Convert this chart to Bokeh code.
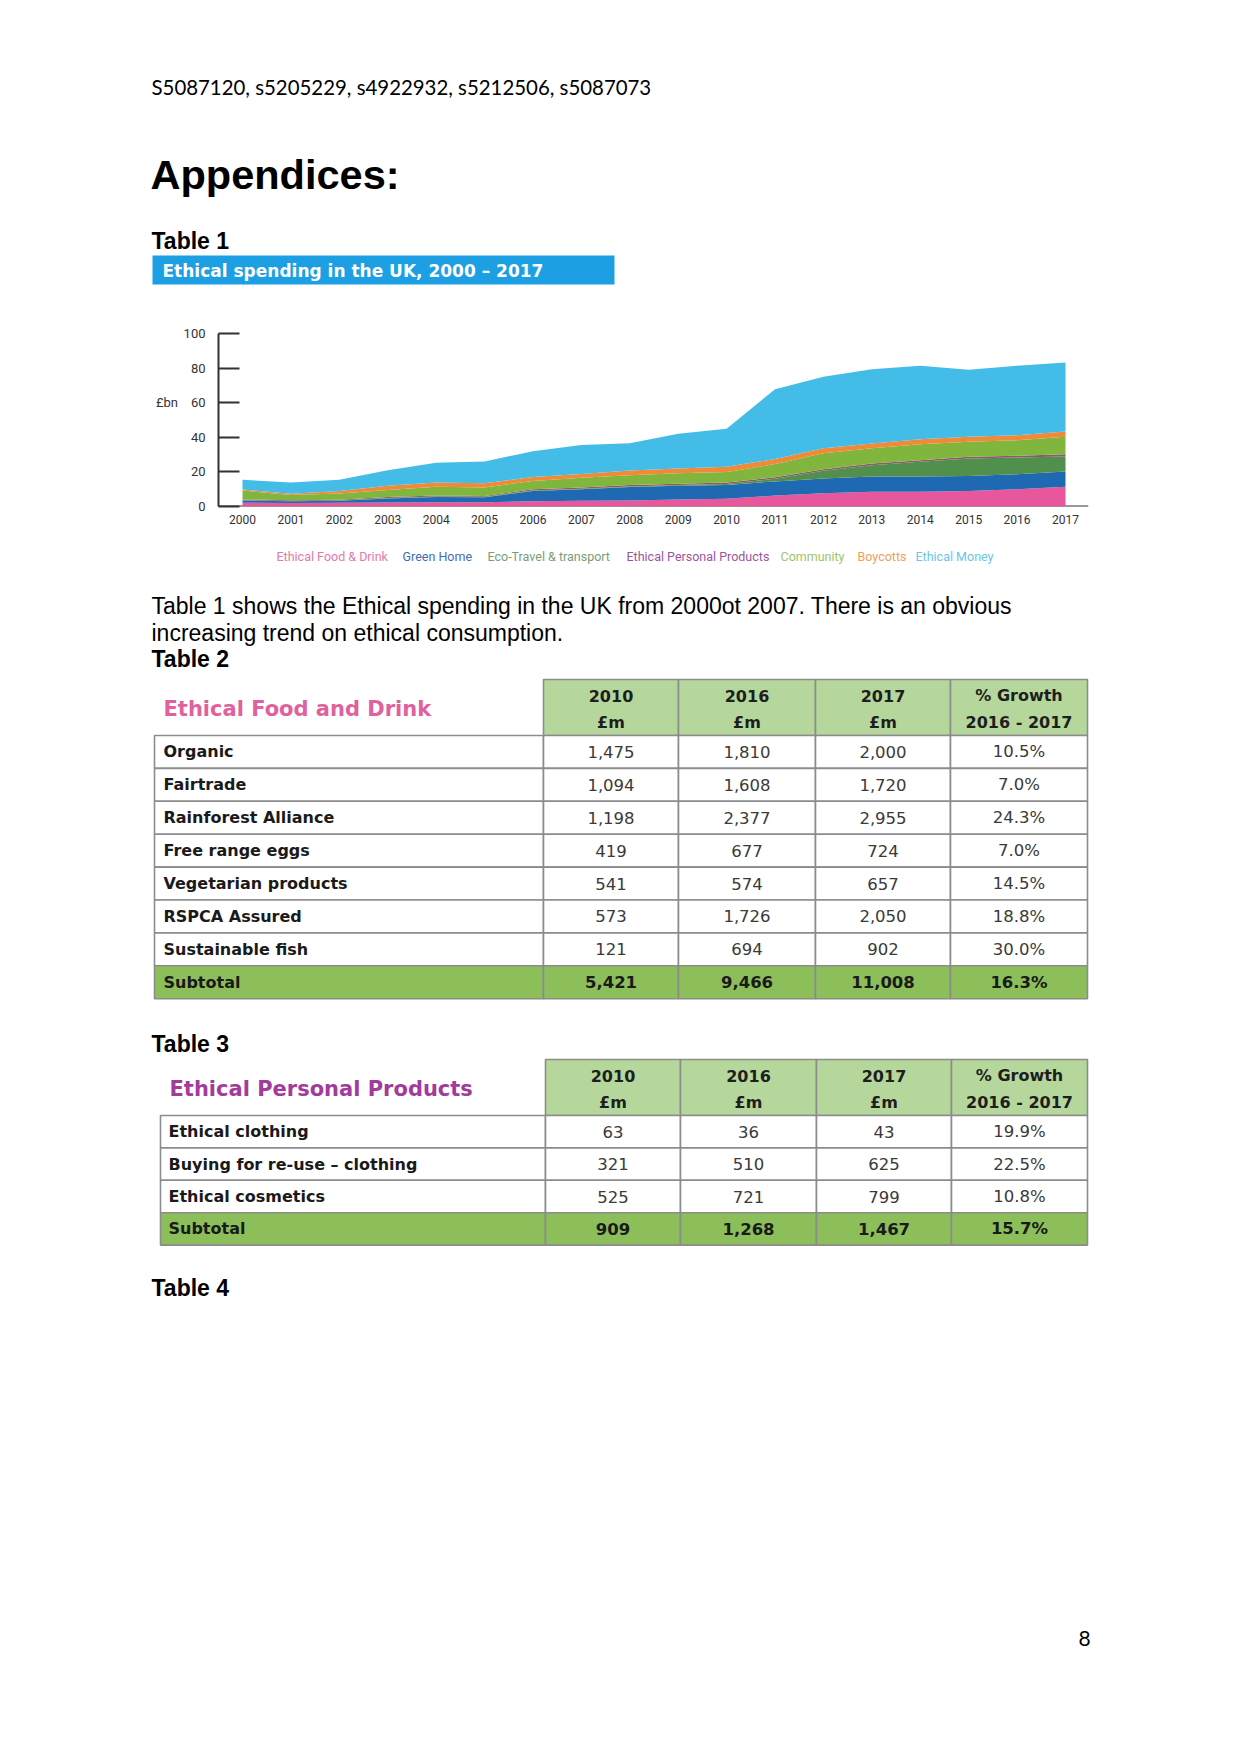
from bokeh.plotting import figure
from bokeh.layouts import column
from bokeh.models import Range1d, ColumnDataSource, FixedTicker, Span
from bokeh.core.properties import value
from bokeh.embed import file_html
from bokeh.resources import INLINE

# ---------------- data ----------------
years = [2000, 2001, 2002, 2003, 2004, 2005, 2006, 2007, 2008,
         2009, 2010, 2011, 2012, 2013, 2014, 2015, 2016, 2017]
series_names = ["Ethical Food & Drink", "Green Home", "Eco-Travel & transport",
                "Ethical Personal Products", "Community", "Boycotts", "Ethical Money"]
food = [2.2, 2.0, 2.1, 2.3, 2.4, 2.5, 3.0, 3.3, 3.5, 4.0, 4.5, 6.3, 7.7, 8.5, 8.5, 9.0, 10.0, 11.4]
home = [1.2, 1.0, 1.2, 2.3, 3.1, 2.8, 6.0, 6.7, 7.8, 8.0, 8.0, 8.2, 8.5, 8.8, 8.8, 8.7, 8.7, 8.8]
travel = [0.2, 0.2, 0.2, 0.3, 0.3, 0.3, 0.3, 0.3, 0.3, 0.4, 0.5, 1.5, 4.4, 6.6, 8.5, 10.0, 9.6, 8.7]
personal = [0.5, 0.4, 0.4, 0.6, 0.6, 0.5, 0.7, 0.7, 0.8, 0.8, 0.9, 0.9, 1.0, 1.0, 1.0, 1.0, 1.0, 1.3]
community = [5.1, 3.0, 3.6, 4.1, 5.0, 4.9, 4.8, 5.6, 5.6, 6.0, 6.1, 7.6, 9.2, 8.8, 9.2, 8.7, 9.0, 10.1]
boycotts = [0.6, 0.7, 1.5, 2.4, 2.5, 2.5, 2.2, 2.2, 2.8, 2.8, 3.0, 2.9, 2.9, 2.7, 2.9, 2.9, 2.9, 3.1]
money = [5.6, 6.6, 6.5, 9.0, 11.4, 12.5, 15.0, 16.7, 15.7, 20.0, 22.0, 40.4, 41.3, 43.0, 42.4, 38.7, 40.1, 39.8]
y_ticks = [0, 20, 40, 60, 80, 100]

food_items = ["Organic", "Fairtrade", "Rainforest Alliance", "Free range eggs",
              "Vegetarian products", "RSPCA Assured", "Sustainable fish"]
food_2010 = [1475, 1094, 1198, 419, 541, 573, 121]
food_2016 = [1810, 1608, 2377, 677, 574, 1726, 694]
food_2017 = [2000, 1720, 2955, 724, 657, 2050, 902]
food_growth = [10.5, 7.0, 24.3, 7.0, 14.5, 18.8, 30.0]
food_subtotal = [5421, 9466, 11008, 16.3]

personal_items = ["Ethical clothing", "Buying for re-use \u2013 clothing", "Ethical cosmetics"]
personal_2010 = [63, 321, 525]
personal_2016 = [36, 510, 721]
personal_2017 = [43, 625, 799]
personal_growth = [19.9, 22.5, 10.8]
personal_subtotal = [909, 1268, 1467, 15.7]

header_line1 = ["2010", "2016", "2017", "% Growth"]
header_line2 = ["\u00a3m", "\u00a3m", "\u00a3m", "2016 - 2017"]

# ---------------- styles ----------------
W = 1241
area_colors = ["#e8579c", "#1f68b2", "#51904c", "#8a5c6a", "#80b63e", "#f08a36", "#43bde8"]
legend_colors = ["#e27aac", "#3f6db5", "#789e76", "#9a55a0", "#9cc46a", "#f0a058", "#6cc5ea"]
legend_x = [276, 402, 487, 626, 780, 857, 915]


def page_fig(top, bottom):
    p = figure(width=W, height=bottom - top, x_range=Range1d(0, W),
               y_range=Range1d(bottom, top), output_backend="svg",
               toolbar_location=None, min_border=0,
               x_axis_location=None, y_axis_location=None)
    p.grid.visible = False
    p.outline_line_color = None
    p.frame_align = False
    return p


def txt(p, x, y, s, font, size, color="#000000", style="normal", align="left"):
    p.text(x=[x], y=[y], text=[s], text_font=value(font), text_font_size=f"{size}px",
           text_font_style=style, text_color=color, text_align=align,
           text_baseline="middle")


def draw_table(p, title, title_color, title_x, title_y, left, edges, head_top, head_bot,
               row_h, items, cols, growth, subtotal, label_x):
    grid = "#8c8c8c"
    p.quad(left=edges[:-1], right=edges[1:], top=[head_top] * 4, bottom=[head_bot] * 4,
           fill_color="#b5d79b", line_color=grid, line_width=1.6)
    hh = head_bot - head_top
    centers = [(edges[i] + edges[i + 1]) / 2 for i in range(4)]
    p.text(x=centers, y=[head_top + 0.29 * hh] * 4,
           text=header_line1, text_font=value("DejaVu Sans"), text_font_size="16px",
           text_font_style="bold", text_color="#1e1e1e", text_align="center", text_baseline="middle")
    p.text(x=centers, y=[head_top + 0.77 * hh] * 4,
           text=header_line2, text_font=value("DejaVu Sans"), text_font_size="16px",
           text_font_style="bold", text_color="#1e1e1e", text_align="center", text_baseline="middle")
    txt(p, title_x, title_y, title, "DejaVu Sans", 21, title_color, "bold")
    n = len(items)
    all_edges = [left] + list(edges)
    for r in range(n + 1):
        top = head_bot + r * row_h
        bot = top + row_h
        fill = "#ffffff" if r < n else "#8cbe5a"
        p.quad(left=all_edges[:-1], right=all_edges[1:], top=[top] * 5, bottom=[bot] * 5,
               fill_color=fill, line_color=grid, line_width=1.6)
        yc = top + row_h / 2
        if r < n:
            label = items[r]
            vals = [f"{cols[0][r]:,}", f"{cols[1][r]:,}", f"{cols[2][r]:,}", f"{growth[r]:.1f}%"]
            style, vcol = "normal", "#3a3a3a"
        else:
            label = "Subtotal"
            vals = [f"{subtotal[0]:,}", f"{subtotal[1]:,}", f"{subtotal[2]:,}", f"{subtotal[3]:.1f}%"]
            style, vcol = "bold", "#1a1a1a"
        txt(p, label_x, yc, label, "DejaVu Sans", 16, "#1a1a1a", "bold")
        p.text(x=centers, y=[yc] * 4, text=vals,
               text_font=value("DejaVu Sans"), text_font_size="16.5px", text_font_style=style,
               text_color=vcol, text_align="center", text_baseline="middle")


# ---------------- top section (page y 0..290) ----------------
top = page_fig(0, 290)
txt(top, 151, 86, "S5087120, s5205229, s4922932, s5212506, s5087073", "Lato", 20.4)
txt(top, 150, 174, "Appendices:", "Liberation Sans", 41.5, style="bold")
txt(top, 151, 240, "Table 1", "Liberation Sans", 23, style="bold")
top.quad(left=[152], right=[614], top=[255], bottom=[284], fill_color="#1c9fe3", line_color=None)
txt(top, 162, 270, "Ethical spending in the UK, 2000 \u2013 2017", "DejaVu Sans", 17, "#ffffff", "bold")

# ---------------- chart (page y 290..540) ----------------
src = ColumnDataSource(dict(year=years, s0=food, s1=home, s2=travel, s3=personal,
                            s4=community, s5=boycotts, s6=money))
ch = figure(width=W, height=250, x_range=Range1d(1999.504, 2017.475), y_range=Range1d(0, 100),
            output_backend="svg", toolbar_location=None,
            min_border_left=218, min_border_right=153, min_border_top=43, min_border_bottom=34)
ch.frame_align = False
ch.grid.visible = False
ch.outline_line_color = None
ch.add_layout(Span(location=0, dimension="width", line_color="#333333", line_width=2,
                   level="underlay"))
ch.varea_stack(stackers=["s0", "s1", "s2", "s3", "s4", "s5", "s6"], x="year",
               color=area_colors, source=src)
ya = ch.yaxis[0]
ya.ticker = FixedTicker(ticks=y_ticks)
ya.major_tick_in = 21
ya.major_tick_out = 0
ya.minor_tick_line_color = None
ya.axis_line_width = 2
ya.axis_line_color = "#333333"
ya.major_tick_line_width = 2
ya.major_tick_line_color = "#333333"
ya.major_label_text_font = "Roboto"
ya.major_label_text_font_size = "13px"
ya.major_label_text_color = "#333333"
ya.major_label_standoff = 13
ya.major_label_overrides = {60: "\u00a3bn\u00a0\u00a0\u00a0\u00a060"}
xa = ch.xaxis[0]
xa.ticker = FixedTicker(ticks=years)
xa.major_tick_in = 0
xa.major_tick_out = 0
xa.minor_tick_line_color = None
xa.axis_line_color = None
xa.major_label_text_font = "Roboto"
xa.major_label_text_font_size = "12px"
xa.major_label_text_color = "#333333"
xa.major_label_standoff = 8

# ---------------- bottom section (page y 540..1745) ----------------
bot = page_fig(540, 1745)
for name, col, lx in zip(series_names, legend_colors, legend_x):
    txt(bot, lx, 556, name, "Roboto", 12.5, col)
txt(bot, 151, 605, "Table 1 shows the Ethical spending in the UK from 2000ot 2007. There is an obvious",
    "Liberation Sans", 23)
txt(bot, 151, 632, "increasing trend on ethical consumption.", "Liberation Sans", 23)
txt(bot, 151, 658, "Table 2", "Liberation Sans", 23, style="bold")

draw_table(bot, "Ethical Food and Drink", "#e0619d", 163, 708, 154,
           [543, 678, 815, 950, 1087], 679, 735, 32.9,
           food_items, [food_2010, food_2016, food_2017], food_growth, food_subtotal, 163)

txt(bot, 151, 1043, "Table 3", "Liberation Sans", 23, style="bold")
draw_table(bot, "Ethical Personal Products", "#a23b9b", 169, 1088, 160,
           [545, 680, 816, 951, 1087], 1059, 1115, 32.4,
           personal_items, [personal_2010, personal_2016, personal_2017], personal_growth,
           personal_subtotal, 168)

txt(bot, 151, 1287, "Table 4", "Liberation Sans", 23, style="bold")
txt(bot, 1084, 1638, "8", "Lato", 21, align="center")

layout = column(top, ch, bot, spacing=0)
open("out.html", "w").write(file_html(layout, INLINE))
